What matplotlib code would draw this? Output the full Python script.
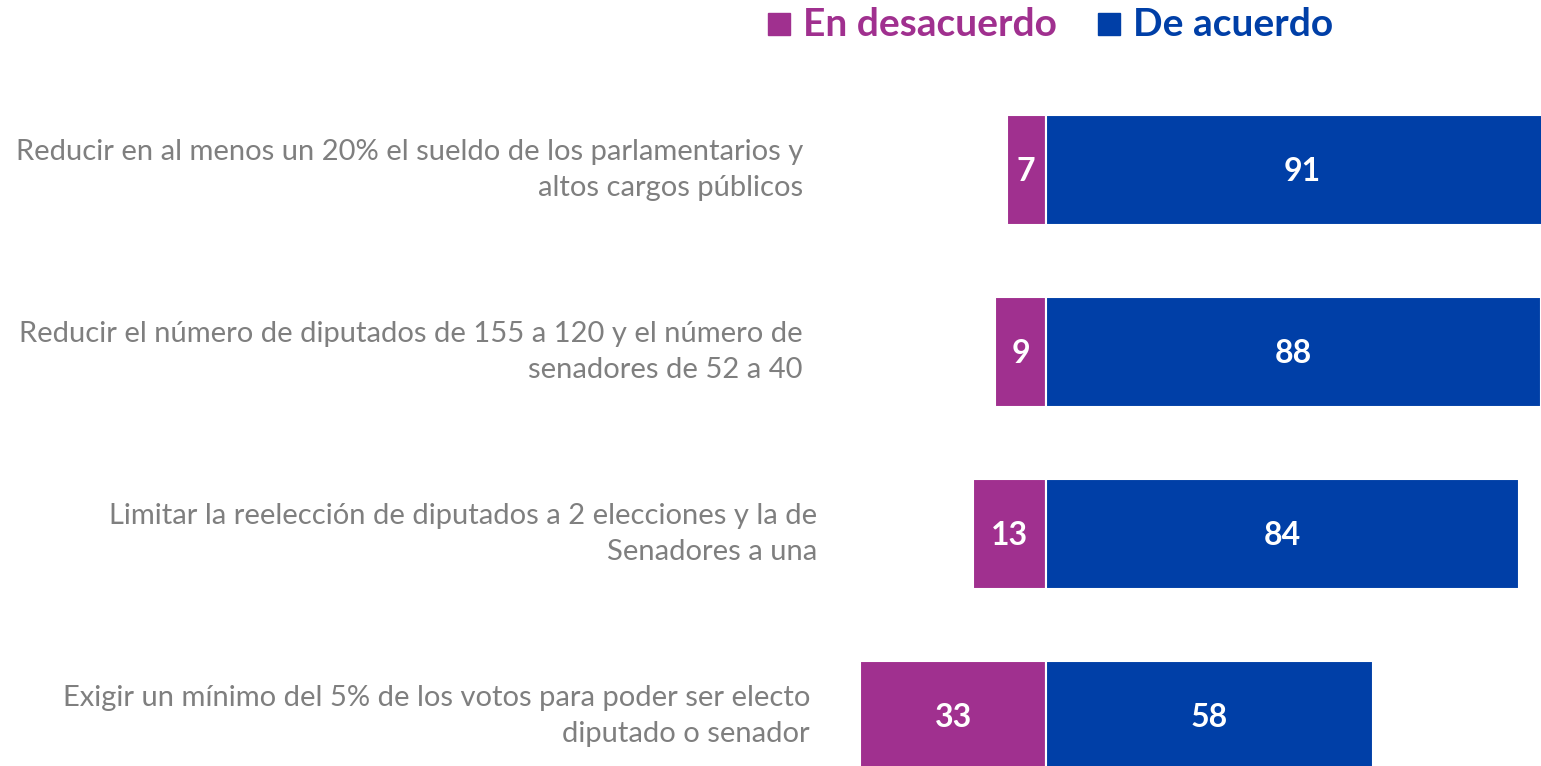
import matplotlib.pyplot as plt
from matplotlib.patches import Rectangle

plt.rcParams["font.family"] = ["Lato", "DejaVu Sans"]

# data
items = [
    "Reducir en al menos un 20% el sueldo de los parlamentarios y\naltos cargos públicos",
    "Reducir el número de diputados de 155 a 120 y el número de\nsenadores de 52 a 40",
    "Limitar la reelección de diputados a 2 elecciones y la de\nSenadores a una",
    "Exigir un mínimo del 5% de los votos para poder ser electo\ndiputado o senador",
]
desacuerdo = [7, 9, 13, 33]
acuerdo = [91, 88, 84, 58]
series_names = ["En desacuerdo", "De acuerdo"]

PURPLE = "#A0308F"
BLUE = "#003FA7"
GREY = "#7F7F7F"

W, H = 1541, 766
PX_PER_UNIT = 5.63   # pixels per percentage point
ZERO_PX = 1046       # pixel x of the zero line
ROW_PX = 182         # pixel spacing between bars
FIRST_ROW_PX = 170   # pixel y of first bar centre
label_right_px = [803, 803, 817, 810]

fig = plt.figure(figsize=(W / 100, H / 100), dpi=100)
ax = fig.add_axes([0, 0, 1, 1])
ax.set_xlim(-ZERO_PX / PX_PER_UNIT, (W - ZERO_PX) / PX_PER_UNIT)
ax.set_ylim((H - FIRST_ROW_PX) / ROW_PX, -FIRST_ROW_PX / ROW_PX)
ax.axis("off")

ys = list(range(len(items)))
bh = 110 / ROW_PX
ax.barh(ys, [-d for d in desacuerdo], height=bh, color=PURPLE,
        edgecolor="white", linewidth=1.5)
ax.barh(ys, acuerdo, height=bh, color=BLUE, edgecolor="white", linewidth=1.5)

for y, d, a in zip(ys, desacuerdo, acuerdo):
    ax.text(-d / 2, y + 0.01, str(d), ha="center", va="center", color="white",
            fontsize=23, fontweight="bold")
    ax.text(a / 2, y + 0.01, str(a), ha="center", va="center", color="white",
            fontsize=23, fontweight="bold")

for y, lab, rx in zip(ys, items, label_right_px):
    ax.text((rx - ZERO_PX) / PX_PER_UNIT, y, lab, ha="right", va="center",
            color=GREY, fontsize=21, linespacing=1.48)

# legend drawn by hand at the top
for (sq_x, tx_x), name, col in zip([(768, 803), (1098, 1133)], series_names,
                                   [PURPLE, BLUE]):
    fig.patches.append(Rectangle((sq_x / W, 1 - 35 / H), 22 / W, 22 / H,
                                 transform=fig.transFigure, color=col))
    fig.text(tx_x / W, 1 - 24 / H, name, ha="left", va="center", color=col,
             fontsize=28, fontweight="bold")

fig.savefig("out.png", dpi=100)
